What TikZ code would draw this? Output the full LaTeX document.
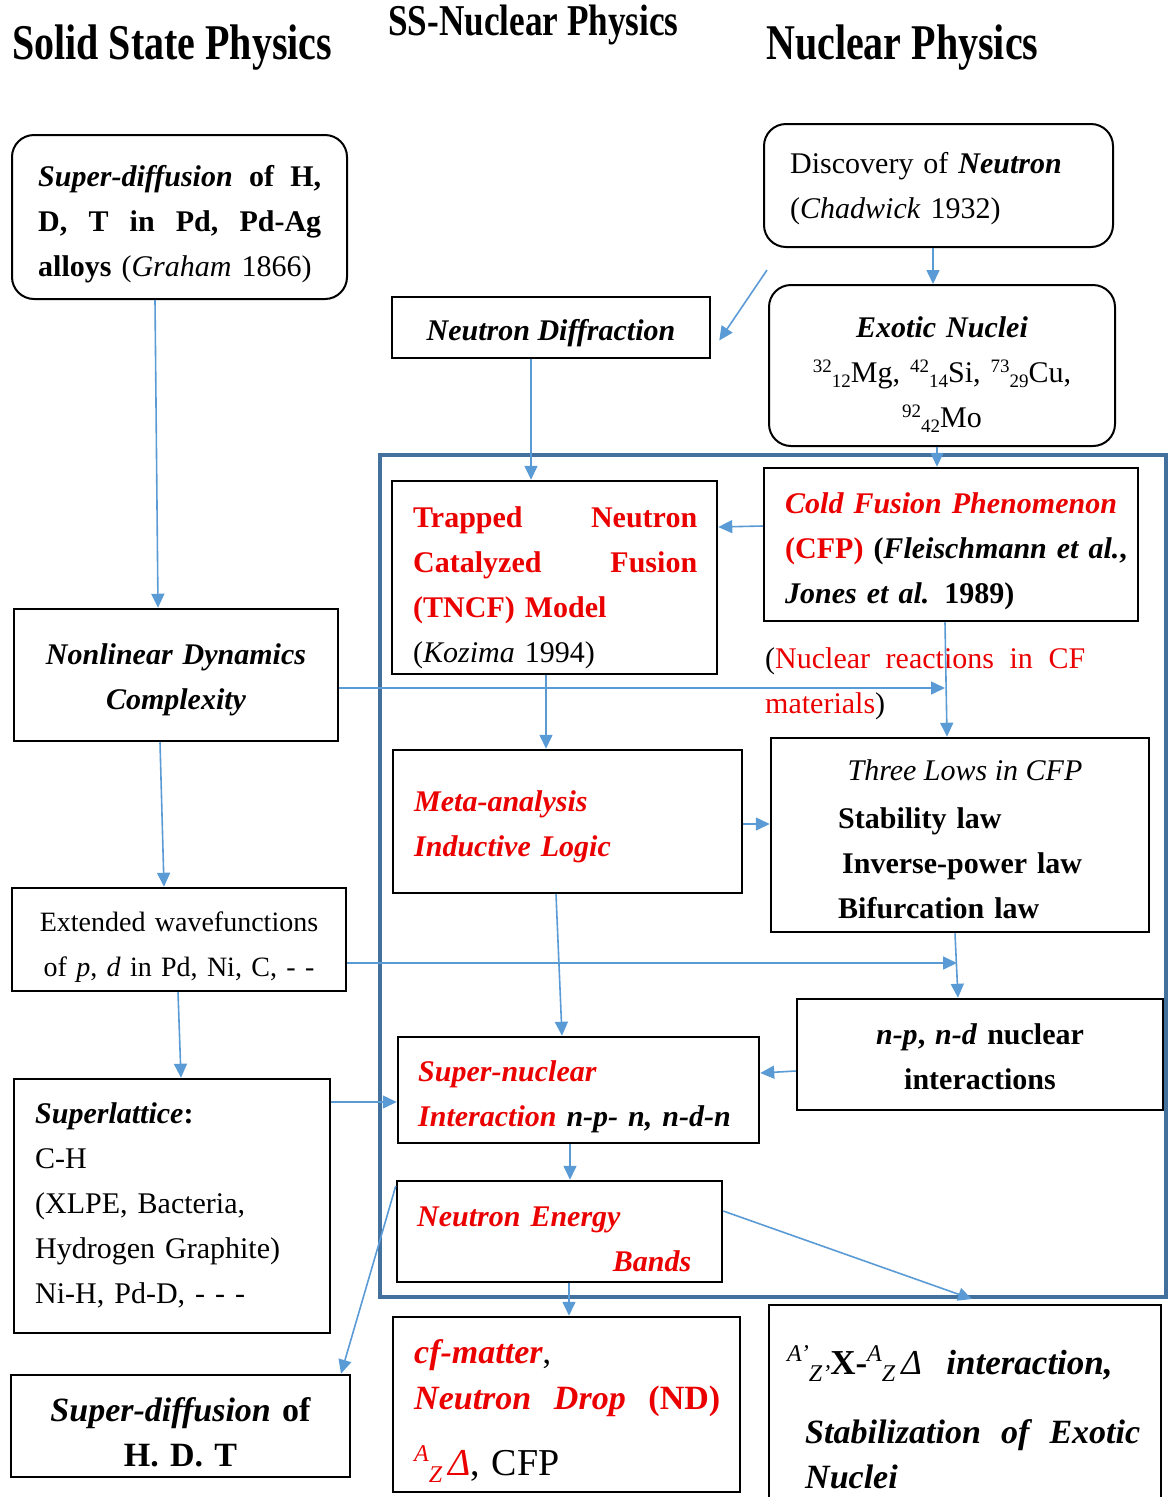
\documentclass[tikz,border=0pt]{standalone}
\usepackage{fontspec}
\setmainfont{Liberation Serif}
\newfontfamily\titlefont{Liberation Serif}[FakeStretch=0.8]
\usetikzlibrary{arrows.meta,calc}
\definecolor{cfred}{RGB}{235,0,0}
\definecolor{framebl}{RGB}{65,113,156}
\definecolor{arrbl}{RGB}{91,155,213}
\newcommand\supx[1]{\raisebox{0.33em}{\fontsize{19}{19}\selectfont #1}}
\newcommand\subx[1]{\raisebox{-0.17em}{\fontsize{19}{19}\selectfont #1}}
\newcommand\supy[1]{\raisebox{0.36em}{\fontsize{24}{24}\selectfont #1}}
\newcommand\suby[1]{\raisebox{-0.2em}{\fontsize{24}{24}\selectfont #1}}
\begin{document}
\begin{tikzpicture}[x=1pt,y=-1pt,
  box/.style={draw=black, line width=2.5pt, inner sep=0pt},
  rbox/.style={draw=black, line width=2pt, inner sep=0pt, rounded corners=22pt},
  txt/.style={inner sep=0pt, font=\fontsize{30}{45}\selectfont},
  ttl/.style={inner sep=0pt, anchor=base west, font=\titlefont\bfseries},
  arr/.style={draw=arrbl, line width=1.6pt, -{Triangle[length=14pt,width=13pt]}},
]
\useasboundingbox (0,0) rectangle (1168,1497);
\clip (0,0) rectangle (1168,1497);

% titles
\node[ttl, font=\titlefont\bfseries\fontsize{50}{50}\selectfont] (tss) at (12,59) {Solid State Physics};
\node[ttl, font=\titlefont\bfseries\fontsize{44}{44}\selectfont] (tssn) at (388,35) {SS-Nuclear Physics};
\node[ttl, font=\titlefont\bfseries\fontsize{50}{50}\selectfont] (tnp) at (766,59) {Nuclear Physics};

% frame
\node[draw=framebl, line width=4pt, inner sep=0pt, minimum width=786pt, minimum height=842pt] (frame) at (773,876) {};

% boxes
\node[rbox, minimum width=335pt, minimum height=164pt] (sd1) at (179.5,217) {};
\node[rbox, minimum width=349pt, minimum height=123pt] (disc) at (938.5,185.5) {};
\node[box, minimum width=318pt, minimum height=61pt] (nd) at (551,327.5) {};
\node[rbox, minimum width=346pt, minimum height=161pt] (exo) at (942,365.5) {};
\node[box, minimum width=325pt, minimum height=193pt] (tncf) at (554.5,577.5) {};
\node[box, minimum width=374pt, minimum height=153pt] (cfp) at (951,544.5) {};
\node[box, minimum width=324pt, minimum height=132pt] (nl) at (176,675) {};
\node[box, minimum width=349pt, minimum height=143pt] (meta) at (567.5,821.5) {};
\node[box, minimum width=378pt, minimum height=194pt] (three) at (960,835) {};
\node[box, minimum width=334pt, minimum height=103pt] (ext) at (179,939.5) {};
\node[box, minimum width=366pt, minimum height=111pt] (np) at (980,1054.5) {};
\node[box, minimum width=361pt, minimum height=106pt] (snuc) at (578.5,1090) {};
\node[box, minimum width=316pt, minimum height=254pt] (slat) at (172,1206) {};
\node[box, minimum width=325pt, minimum height=101pt] (neb) at (559.5,1231.5) {};
\node[box, minimum width=339pt, minimum height=102pt] (hdt) at (180.5,1426) {};
\node[box, minimum width=347pt, minimum height=175pt] (cfm) at (566.5,1404.5) {};
\node[box, minimum width=392pt, minimum height=215pt] (last) at (965,1412.5) {};

% texts
\node[txt, anchor=base west, text width=283pt, align=left] (sd1t) at (38,186)
  {\bfseries\textit{Super-diffusion}\hfill of\hfill H,\\D,\hfill T\hfill in\hfill Pd,\hfill Pd-Ag\\alloys \mdseries(\textit{Graham} 1866)};
\node[txt, anchor=base west, text width=320pt, align=left] (disct) at (790,173)
  {Discovery of \textbf{\textit{Neutron}}\\(\textit{Chadwick} 1932)};
\node[txt, anchor=base] (ndt) at (551,340) {\bfseries\itshape Neutron Diffraction};
\node[txt, anchor=base, text width=340pt, align=center] (exot) at (942,337)
  {{\bfseries\itshape Exotic Nuclei}\\\supx{32}\subx{12}Mg, \supx{42}\subx{14}Si, \supx{73}\subx{29}Cu,\\\supx{92}\subx{42}Mo};
\node[txt, anchor=base west, text width=284pt, align=left] (tncft) at (413,527)
  {{\color{cfred}\bfseries Trapped\hfill Neutron\\Catalyzed\hfill Fusion\\(TNCF) Model}\\(\textit{Kozima} 1994)};
\node[txt, anchor=base west, text width=345pt, align=left] (cfpt) at (785,513)
  {{\color{cfred}\bfseries\itshape Cold Fusion Phenomenon}\\{\color{cfred}\bfseries (CFP)} \textbf{(\textit{Fleischmann et al.},}\\\textbf{\textit{Jones et al.} 1989)}};
\node[txt, anchor=base west, text width=320pt, align=left] (nrt) at (765,668)
  {(\textcolor{cfred}{Nuclear}\hfill\textcolor{cfred}{reactions}\hfill\textcolor{cfred}{in}\hfill\textcolor{cfred}{CF}\\\textcolor{cfred}{materials})};
\node[txt, anchor=base, text width=320pt, align=center] (nlt) at (176,664)
  {\bfseries\itshape Nonlinear Dynamics\\Complexity};
\node[txt, anchor=base west, text width=320pt, align=left] (metat) at (414,811)
  {\color{cfred}\bfseries\itshape Meta-analysis\\Inductive Logic};
\node[txt, anchor=base] (threet) at (965,780) {\itshape Three Lows in CFP};
\node[txt, anchor=base west, text width=300pt, align=left] (lawst) at (838,828)
  {\bfseries Stability law\\\hspace*{4pt}Inverse-power law\\Bifurcation law};
\node[txt, anchor=base, text width=330pt, align=center, font=\fontsize{28}{45}\selectfont] (extt) at (179,931)
  {Extended wavefunctions\\of \textit{p}, \textit{d} in Pd, Ni, C, - -};
\node[txt, anchor=base, text width=360pt, align=center] (npt) at (980,1044)
  {\bfseries\textit{n-p}, \textit{n-d} nuclear\\interactions};
\node[txt, anchor=base west, text width=340pt, align=left] (snuct) at (418,1081)
  {\bfseries\itshape\textcolor{cfred}{Super-nuclear}\\\textcolor{cfred}{Interaction} n-p- n, n-d-n};
\node[txt, anchor=base west, text width=290pt, align=left] (slatt) at (35,1123)
  {{\bfseries\itshape Superlattice\/\upshape:}\\C-H\\(XLPE, Bacteria,\\Hydrogen Graphite)\\Ni-H, Pd-D, - - -};
\node[txt, anchor=base west, text width=274pt, align=left] (nebt) at (417,1226)
  {\color{cfred}\bfseries\itshape Neutron Energy\\\mbox{}\hfill Bands};
\node[txt, anchor=base, text width=335pt, align=center, font=\fontsize{34}{45}\selectfont] (hdtt) at (180.5,1421)
  {\bfseries\textit{Super-diffusion} of\\H. D. T};
\node[txt, anchor=base west, text width=306pt, align=left, font=\fontsize{34}{46}\selectfont] (cfmt) at (414,1363)
  {\textcolor{cfred}{\bfseries\itshape cf-matter},\\{\color{cfred}\bfseries\itshape Neutron\hfill Drop\hfill\upshape(ND)}\\[20pt]{\fontsize{38}{46}\selectfont{\color{cfred}\itshape\supy{A}\suby{Z}\,Δ}, CFP}};
\node[txt, anchor=base west, font=\fontsize{35}{45}\selectfont] (lastt1) at (787,1374)
  {\supy{\textit{A'}}\suby{\textit{Z'}}\textbf{X-}\supy{\textit{A}}\suby{\textit{Z}}\,\textit{Δ}\hspace{0.7em}\textbf{\textit{interaction,}}};
\node[txt, anchor=base west, text width=335pt, align=left, font=\fontsize{34}{45}\selectfont] (lastt2) at (805,1443)
  {\bfseries\itshape Stabilization\hfill of\hfill Exotic\\Nuclei};

% free ends
\coordinate (ndstart) at (767,270);
\coordinate (nlend) at (945,688);
\coordinate (extend) at (957,963);

% connectors
\draw[arr] (sd1.south -| 155,0) -- (nl.north -| 158,0);
\draw[arr] (nl.south -| 160,0) -- (ext.north -| 164,0);
\draw[arr] (ext.south -| 178,0) -- (slat.north -| 181,0);
\draw[arr] (nl.east |- 0,688) -- (nlend);
\draw[arr] (ext.east |- 0,963) -- (extend);
\draw[arr] (slat.east |- 0,1102) -- (snuc.west |- 0,1102);
\draw[arr] (neb.west |- 0,1186) -- (hdt.north -| 341,0);
\draw[arr] (disc.south -| 933,0) -- (exo.north -| 933,0);
\draw[arr] (ndstart) -- ([xshift=8pt,yshift=-13pt]nd.east);
\draw[arr] (nd.south -| 531,0) -- (tncf.north -| 531,0);
\draw[arr] (exo.south -| 937,0) -- (cfp.north -| 937,0);
\draw[arr] (cfp.west |- 0,526) -- (tncf.east |- 0,527);
\draw[arr] (cfp.south -| 945,0) -- (three.north -| 947,0);
\draw[arr] (tncf.south -| 546,0) -- (meta.north -| 546,0);
\draw[arr] (meta.east |- 0,824) -- (three.west |- 0,824);
\draw[arr] (three.south -| 955,0) -- (np.north -| 958,0);
\draw[arr] (meta.south -| 556,0) -- (snuc.north -| 562,0);
\draw[arr] (np.west |- 0,1071) -- (snuc.east |- 0,1073);
\draw[arr] (snuc.south -| 570,0) -- (neb.north -| 570,0);
\draw[arr] (neb.south -| 569,0) -- (cfm.north -| 569,0);
\draw[arr] (neb.east |- 0,1211) -- (frame.south -| 972,0);
\end{tikzpicture}
\end{document}
